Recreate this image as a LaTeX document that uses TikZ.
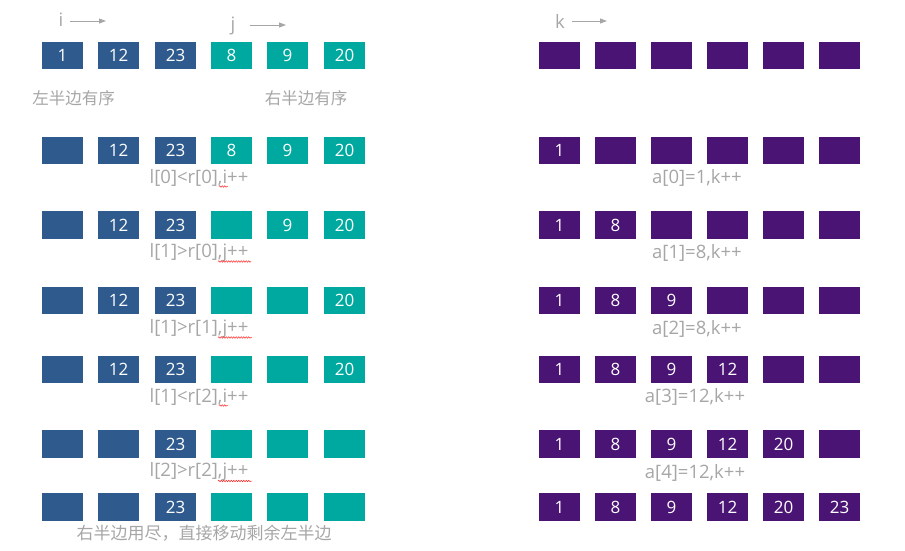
\documentclass[tikz,border=0pt]{standalone}
\usepackage{fontspec}
\setmainfont{Open Sans}
\newfontfamily\cjkfont{Noto Sans CJK SC}
\usetikzlibrary{arrows.meta,decorations.pathmorphing}
\definecolor{lblue}{HTML}{2F5A8D}
\definecolor{rteal}{HTML}{00A99F}
\definecolor{mpurple}{HTML}{4A1474}
\definecolor{txtgray}{HTML}{A6A6A6}
\newcommand\myLrow[8]{%
 \node[lcell] (L#1c1) at (62.5,#2) {#3};
 \node[lcell] (L#1c2) at (118.5,#2) {#4};
 \node[lcell] (L#1c3) at (175.5,#2) {#5};
 \node[rcell] (L#1c4) at (231.5,#2) {#6};
 \node[rcell] (L#1c5) at (287.5,#2) {#7};
 \node[rcell] (L#1c6) at (344.5,#2) {#8};}
\newcommand\myArow[8]{%
 \node[acell] (A#1c1) at (559.5,#2) {#3};
 \node[acell] (A#1c2) at (615.5,#2) {#4};
 \node[acell] (A#1c3) at (671.5,#2) {#5};
 \node[acell] (A#1c4) at (727.5,#2) {#6};
 \node[acell] (A#1c5) at (783.5,#2) {#7};
 \node[acell] (A#1c6) at (839.5,#2) {#8};}
\begin{document}
\begin{tikzpicture}[x=1pt,y=-1pt,
 cell/.style={minimum width=41pt,minimum height=27.5pt,inner sep=0pt,text=white,font=\fontsize{17}{17}\selectfont},
 lcell/.style={cell,fill=lblue},
 rcell/.style={cell,fill=rteal},
 acell/.style={cell,fill=mpurple},
 note/.style={text=txtgray,font=\fontsize{18.5}{18.5}\selectfont,inner sep=0pt},
 cnote/.style={text=txtgray,font=\cjkfont\fontsize{16.5}{16.5}\selectfont,inner sep=0pt},
 ptr/.style={draw=txtgray,line width=0.9pt,-{Triangle[length=7pt,width=5pt]}},
 squig/.style={draw=red!85,line width=0.5pt,decorate,decoration={snake,amplitude=0.8pt,segment length=2.5pt}}]
\useasboundingbox (0,0) rectangle (905,550);
% pointers
\node[note,anchor=center] (pi) at (61,20) {i};
\coordinate (pie) at (106,21);
\draw[ptr] (70,21) -- (pie);
\node[note,anchor=center] (pj) at (233,26) {j};
\coordinate (pje) at (286,25);
\draw[ptr] (250,25) -- (pje);
\node[note,anchor=center] (pk) at (560,21) {k};
\coordinate (pke) at (607,21);
\draw[ptr] (572,21) -- (pke);
% rows
\myLrow{0}{55.5}{1}{12}{23}{8}{9}{20}
\myArow{0}{55.5}{}{}{}{}{}{}
\myLrow{1}{150.5}{}{12}{23}{8}{9}{20}
\myArow{1}{150.5}{1}{}{}{}{}{}
\myLrow{2}{225}{}{12}{23}{}{9}{20}
\myArow{2}{225}{1}{8}{}{}{}{}
\myLrow{3}{300.5}{}{12}{23}{}{}{20}
\myArow{3}{300.5}{1}{8}{9}{}{}{}
\myLrow{4}{369.5}{}{12}{23}{}{}{20}
\myArow{4}{369.5}{1}{8}{9}{12}{}{}
\myLrow{5}{444}{}{}{23}{}{}{}
\myArow{5}{444}{1}{8}{9}{12}{20}{}
\myLrow{6}{507}{}{}{23}{}{}{}
\myArow{6}{507}{1}{8}{9}{12}{20}{23}
% notes
\node[cnote] (lh) at (73.5,98) {左半边有序};
\node[cnote] (rh) at (306,98) {右半边有序};
\node[note] (n1) at (199,178) {l[0]<r[0],i++};
\node[note] (n2) at (199,253) {l[1]>r[0],j++};
\node[note] (n3) at (199,329) {l[1]>r[1],j++};
\node[note] (n4) at (199,397) {l[1]<r[2],i++};
\node[note] (n5) at (199,472) {l[2]>r[2],j++};
\node[cnote,font=\cjkfont\fontsize{17}{17}\selectfont] (fin) at (204,533) {右半边用尽，直接移动剩余左半边};
\node[note] (a1) at (697,178) {a[0]=1,k++};
\node[note] (a2) at (697,253) {a[1]=8,k++};
\node[note] (a3) at (697,329) {a[2]=8,k++};
\node[note] (a4) at (695,397) {a[3]=12,k++};
\node[note] (a5) at (695,473) {a[4]=12,k++};
% spell-check marks
\draw[squig] (219,186.5) -- (228,186.5);
\draw[squig] (218,261.5) -- (251,261.5);
\draw[squig] (218,337.5) -- (252,337.5);
\draw[squig] (219,405.5) -- (228,405.5);
\draw[squig] (218,481) -- (252,481);
\end{tikzpicture}
\end{document}
